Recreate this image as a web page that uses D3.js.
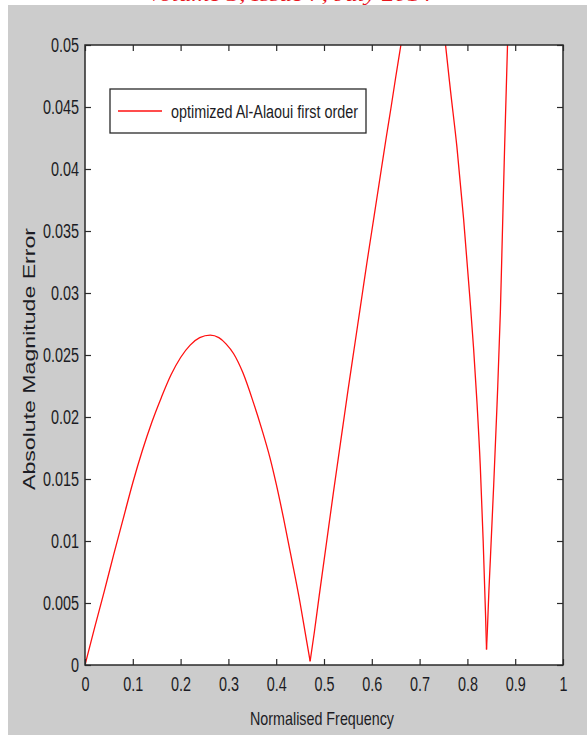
<!DOCTYPE html>
<html><head><meta charset="utf-8">
<script src="https://cdn.jsdelivr.net/npm/d3@7"></script>
<style>
html,body{margin:0;padding:0;background:#fff;}
svg{display:block;}
text{font-family:"Liberation Sans",Arial,sans-serif;fill:#1c1c24;}
</style></head>
<body>
<svg id="chart" width="587" height="735"></svg>
<script>
// Data (normalised frequency, absolute magnitude error)
const freq = [0,0.02,0.04,0.06,0.08,0.10,0.12,0.14,0.16,0.18,0.20,0.22,0.24,0.262,0.28,0.295,0.311,0.33,0.352,0.37,0.387,0.40,0.415,0.432,0.45,0.462,0.471,
  0.48,0.49,0.50,0.51,0.52,0.53,0.54,0.55,0.56,0.57,0.58,0.59,0.60,0.61,0.62,0.63,0.64,0.65,0.66,0.67,0.69,0.72,0.74,0.754,
  0.765,0.778,0.792,0.805,0.813,0.820,0.827,0.833,0.838,0.840,0.842,0.845,0.848,0.855,0.862,0.869,0.873,0.877,0.884,0.89];
const errorValues = [0,0.0030,0.0059,0.0089,0.0118,0.0147,0.0173,0.0196,0.0216,0.0234,0.0248,0.0258,0.0264,0.0266,0.0264,0.0259,0.0251,0.0236,0.0212,0.0190,0.0167,0.0146,0.0119,0.0086,0.0050,0.0023,0.0003,
  0.0027,0.0056,0.0084,0.0112,0.0140,0.0167,0.0194,0.0221,0.0247,0.0273,0.0299,0.0325,0.0350,0.0375,0.0400,0.0425,0.0449,0.0474,0.0498,0.0522,0.0570,0.0600,0.0560,0.0501,
  0.0462,0.0418,0.0360,0.0297,0.0255,0.0212,0.0160,0.0100,0.0040,0.00125,0.0030,0.0060,0.0085,0.0145,0.0210,0.0285,0.0345,0.0405,0.0501,0.0560];
const xTicks = [0,0.1,0.2,0.3,0.4,0.5,0.6,0.7,0.8,0.9,1];
const xTickLabels = ["0","0.1","0.2","0.3","0.4","0.5","0.6","0.7","0.8","0.9","1"];
const yTicks = [0,0.005,0.01,0.015,0.02,0.025,0.03,0.035,0.04,0.045,0.05];
const yTickLabels = ["0","0.005","0.01","0.015","0.02","0.025","0.03","0.035","0.04","0.045","0.05"];
const seriesName = "optimized Al-Alaoui first order";
const xTitle = "Normalised Frequency";
const yTitle = "Absolute Magnitude Error";
const headerText = "Volume 3, Issue 7, July 2014";

const svg = d3.select("#chart");
const L = 85, R = 563, T = 45, B = 665;
const x = d3.scaleLinear().domain([0,1]).range([L,R]);
const y = d3.scaleLinear().domain([0,0.05]).range([B,T]);
const axisColor = "#2a2a2a";

// cropped header text from the page above the figure
svg.append("text").attr("x",147).attr("y",0.5).attr("textLength",285)
  .attr("lengthAdjust","spacingAndGlyphs")
  .style("font-family","'Liberation Serif','Times New Roman',serif").style("font-style","italic")
  .style("font-size","19px").style("fill","#e8141c").text(headerText);

// gray figure background
svg.append("rect").attr("x",8).attr("y",5).attr("width",579).attr("height",730).attr("fill","#cccccc");

// plot area
svg.append("rect").attr("x",L).attr("y",T).attr("width",R-L).attr("height",B-T).attr("fill","#fff");

svg.append("defs").append("clipPath").attr("id","clip")
  .append("rect").attr("x",L).attr("y",T).attr("width",R-L).attr("height",B-T);

const data = freq.map((f,i)=>({f, v:errorValues[i]}));
// split at the sharp minima so the V tips stay sharp while the rest is smooth
const minima = [0.471, 0.840];
const segments = [];
let cur = [];
data.forEach(d=>{
  cur.push(d);
  if (minima.includes(d.f)) { segments.push(cur); cur=[d]; }
});
segments.push(cur);
const line = d3.line().x(d=>x(d.f)).y(d=>y(d.v)).curve(d3.curveMonotoneX);
svg.append("g").attr("clip-path","url(#clip)")
  .selectAll("path").data(segments).join("path")
  .attr("fill","none").attr("stroke","#ff1010").attr("stroke-width",1.3)
  .attr("d", line);

function styleAxis(g){
  g.select(".domain").remove();
  g.selectAll(".tick line").attr("stroke",axisColor).attr("stroke-width",1.2);
  g.selectAll(".tick text").style("font-size","20px").style("fill","#1c1c24")
    .each(function(){
      const w = this.getComputedTextLength();
      if (w>0) d3.select(this).attr("textLength", w*0.72).attr("lengthAdjust","spacingAndGlyphs");
    });
}

svg.append("g").attr("transform",`translate(0,${B})`)
  .call(d3.axisBottom(x).tickValues(xTicks).tickFormat((d,i)=>xTickLabels[i]).tickSize(-6).tickSizeOuter(0).tickPadding(12))
  .call(styleAxis);
svg.append("g").attr("transform",`translate(${L},0)`)
  .call(d3.axisLeft(y).tickValues(yTicks).tickFormat((d,i)=>yTickLabels[i]).tickSize(-6).tickSizeOuter(0).tickPadding(6))
  .call(styleAxis);
svg.append("g").attr("transform",`translate(0,${T})`)
  .call(d3.axisTop(x).tickValues(xTicks).tickFormat("").tickSize(-6).tickSizeOuter(0))
  .call(styleAxis);
svg.append("g").attr("transform",`translate(${R},0)`)
  .call(d3.axisRight(y).tickValues(yTicks).tickFormat("").tickSize(-6).tickSizeOuter(0))
  .call(styleAxis);

// frame
svg.append("rect").attr("x",L).attr("y",T).attr("width",R-L).attr("height",B-T)
  .attr("fill","none").attr("stroke",axisColor).attr("stroke-width",1.5);

// titles
svg.append("text").attr("x",322).attr("y",725).attr("text-anchor","middle")
  .attr("textLength",144).attr("lengthAdjust","spacingAndGlyphs")
  .style("font-size","19px").text(xTitle);
svg.append("text").attr("transform","translate(35,359) rotate(-90)").attr("text-anchor","middle")
  .attr("textLength",262).attr("lengthAdjust","spacingAndGlyphs")
  .style("font-size","16px").text(yTitle);

// legend
const lg = svg.append("g");
lg.append("rect").attr("x",110).attr("y",89).attr("width",256).attr("height",44)
  .attr("fill","#fff").attr("stroke",axisColor).attr("stroke-width",1.3);
lg.append("line").attr("x1",118).attr("x2",162).attr("y1",111).attr("y2",111)
  .attr("stroke","#ff1010").attr("stroke-width",1.3);
lg.append("text").attr("x",171).attr("y",118).attr("textLength",187).attr("lengthAdjust","spacingAndGlyphs")
  .style("font-size","18px").text(seriesName);
</script>
</body></html>
